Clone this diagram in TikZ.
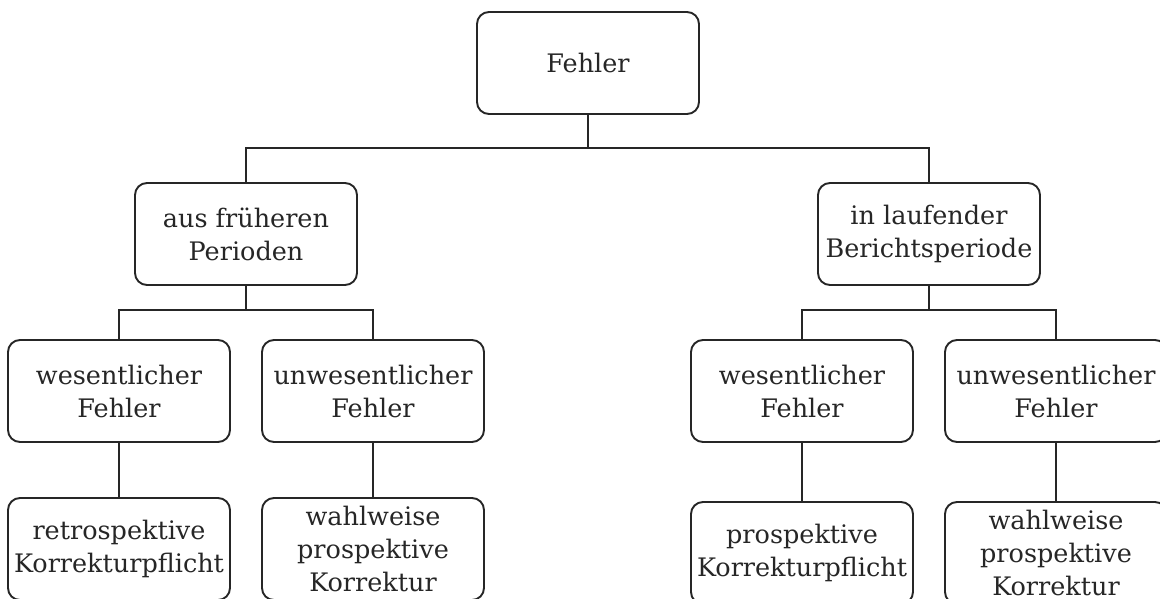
\documentclass[tikz,border=0pt]{standalone}
\usepackage{fontspec}
\setmainfont{DejaVu Serif}
\definecolor{ink}{HTML}{262626}
\begin{document}
\begin{tikzpicture}[x=1pt,y=-1pt,
  box/.style={draw=ink, line width=1.9pt, rounded corners=12pt, minimum width=222pt, minimum height=102pt,
    align=center, inner sep=0pt, text=ink, font=\fontsize{25.5}{33}\selectfont},
  conn/.style={draw=ink, line width=1.9pt}]
\useasboundingbox (0,0) rectangle (1160,598);
\node[box] (fehler) at (588,63) {Fehler};
\node[box] (frueher) at (246,234) {aus früheren\\Perioden};
\node[box] (laufend) at (929,234) {in laufender\\Berichtsperiode};
\node[box] (wesL) at (119,391) {wesentlicher\\Fehler};
\node[box] (unwL) at (373,391) {unwesentlicher\\Fehler};
\node[box] (retro) at (119,549) {retrospektive\\Korrekturpflicht};
\node[box] (wahlL) at (373,549) {wahlweise\\prospektive\\Korrektur};
\node[box] (wesR) at (802,391) {wesentlicher\\Fehler};
\node[box] (unwR) at (1056,391) {unwesentlicher\\Fehler};
\node[box] (prosp) at (802,553) {prospektive\\Korrekturpflicht};
\node[box] (wahlR) at (1056,553) {wahlweise\\prospektive\\Korrektur};
\coordinate (bus1) at (588,148);
\coordinate (bus2) at (246,310);
\coordinate (bus3) at (929,310);
\draw[conn] (fehler.south) -- (bus1);
\draw[conn] (frueher.north) |- (bus1) -| (laufend.north);
\draw[conn] (frueher.south) -- (bus2);
\draw[conn] (wesL.north) |- (bus2) -| (unwL.north);
\draw[conn] (laufend.south) -- (bus3);
\draw[conn] (wesR.north) |- (bus3) -| (unwR.north);
\draw[conn] (wesL.south) -- (retro.north);
\draw[conn] (unwL.south) -- (wahlL.north);
\draw[conn] (wesR.south) -- (prosp.north);
\draw[conn] (unwR.south) -- (wahlR.north);
\end{tikzpicture}
\end{document}
